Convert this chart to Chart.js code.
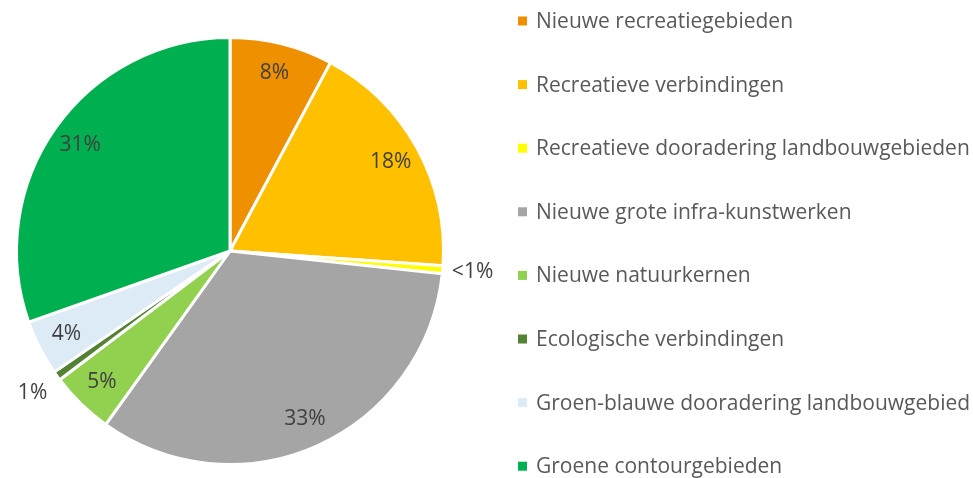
<!DOCTYPE html>
<html>
<head>
<meta charset="utf-8">
<script src="https://cdn.jsdelivr.net/npm/chart.js@4"></script>
<style>
  html, body { margin: 0; padding: 0; background: #fff; overflow: hidden; }
  #wrap { width: 973px; height: 478px; position: relative; }
</style>
</head>
<body>
<div id="wrap"><canvas id="pieChart"></canvas></div>
<script>
// data (shares in %)
const categories = [
  'Nieuwe recreatiegebieden',
  'Recreatieve verbindingen',
  'Recreatieve dooradering landbouwgebieden',
  'Nieuwe grote infra-kunstwerken',
  'Nieuwe natuurkernen',
  'Ecologische verbindingen',
  'Groen-blauwe dooradering landbouwgebied',
  'Groene contourgebieden'
];
const shares = [7.8, 18.3, 0.6, 33.2, 4.8, 0.7, 4.2, 30.4];
const shareLabels = ['8%', '18%', '<1%', '33%', '5%', '1%', '4%', '31%'];
const colors = ['#EF9000', '#FFC000', '#FFFF00', '#A5A5A5', '#92D050', '#548235', '#DDEBF7', '#00B050'];

const FONT = '"Open Sans", "Liberation Sans", sans-serif';

// percentage labels: inside the slice, or just outside for the tiny ones
const sliceLabels = {
  id: 'sliceLabels',
  afterDatasetsDraw(chart) {
    const ctx = chart.ctx;
    const meta = chart.getDatasetMeta(0);
    ctx.save();
    ctx.font = '21px ' + FONT;
    ctx.fillStyle = '#404040';
    ctx.textAlign = 'center';
    ctx.textBaseline = 'middle';
    meta.data.forEach((arc, i) => {
      const p = arc.getProps(['x', 'y', 'startAngle', 'endAngle', 'outerRadius']);
      const mid = (p.startAngle + p.endAngle) / 2;
      const r = shares[i] < 2 ? p.outerRadius + 30 : p.outerRadius * 0.86;
      ctx.fillText(shareLabels[i], p.x + Math.cos(mid) * r, p.y + Math.sin(mid) * r);
    });
    ctx.restore();
  }
};

// legend on the right, drawn by hand so it can run off the edge like the original
const sideLegend = {
  id: 'sideLegend',
  afterDraw(chart) {
    const ctx = chart.ctx;
    ctx.save();
    ctx.font = '21px ' + FONT;
    ctx.textBaseline = 'middle';
    ctx.textAlign = 'left';
    chart.data.labels.forEach((label, i) => {
      const y = 21 + i * 63.6;
      ctx.fillStyle = chart.data.datasets[0].backgroundColor[i];
      ctx.fillRect(518, y - 4.5, 9, 9);
      ctx.fillStyle = '#595959';
      ctx.fillText(label, 536, y + 1);
    });
    ctx.restore();
  }
};

const ctx = document.getElementById('pieChart').getContext('2d');

new Chart(ctx, {
  type: 'pie',
  data: {
    labels: categories,
    datasets: [{
      data: shares,
      backgroundColor: colors,
      borderColor: '#ffffff',
      borderWidth: 3
    }]
  },
  options: {
    responsive: true,
    maintainAspectRatio: false,
    animation: false,
    layout: {
      padding: { left: 15, right: 528, top: 36, bottom: 12 }
    },
    plugins: {
      legend: { display: false },
      tooltip: { enabled: false }
    }
  },
  plugins: [sliceLabels, sideLegend]
});
</script>
</body>
</html>
